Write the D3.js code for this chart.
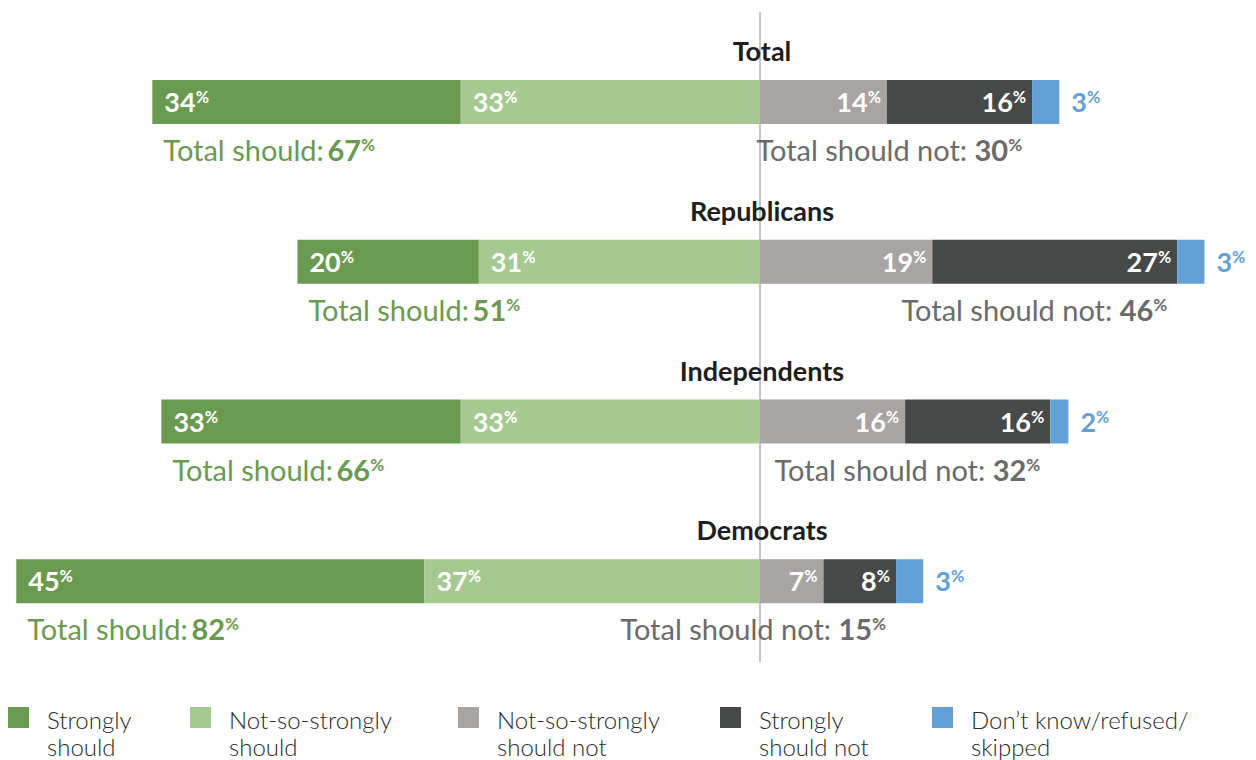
<!DOCTYPE html>
<html>
<head>
<meta charset="utf-8">
<script src="https://cdn.jsdelivr.net/npm/d3@7"></script>
<style>
  body { margin: 0; background: #fff; }
  svg { font-family: Lato, "Open Sans", sans-serif; }
</style>
</head>
<body>
<div id="chart"></div>
<script>
// data
const groups = ["Total", "Republicans", "Independents", "Democrats"];
const stronglyShould = [34, 20, 33, 45];
const notSoShould = [33, 31, 33, 37];
const notSoShouldNot = [14, 19, 16, 7];
const stronglyShouldNot = [16, 27, 16, 8];
const dontKnow = [3, 3, 2, 3];
const totalShould = [67, 51, 66, 82];
const totalShouldNot = [30, 46, 32, 15];
const legendLabels = [
  ["Strongly", "should"],
  ["Not-so-strongly", "should"],
  ["Not-so-strongly", "should not"],
  ["Strongly", "should not"],
  ["Don\u2019t know/refused/", "skipped"]
];

const colors = ["#6a9a50", "#a6c991", "#a8a4a2", "#474948", "#62a0d5"];
const greenText = "#6a9a50";
const grayText = "#6b6b6b";

const width = 1256, height = 760;
const centerX = 760;

const svg = d3.select("#chart").append("svg")
  .attr("width", width)
  .attr("height", height);

// percent -> px offset from center
const x = d3.scaleLinear().domain([0, 100]).range([0, 907]);
const y = d3.scaleBand().domain(groups).range([80, 719]).paddingInner(0);
const barH = 44;

// center line
svg.append("line")
  .attr("x1", centerX).attr("x2", centerX)
  .attr("y1", 12).attr("y2", 662)
  .attr("stroke", "#8a8a8a").attr("stroke-width", 1);

function pctLabel(sel, num, fs, color) {
  sel.attr("fill", color);
  sel.append("tspan")
    .attr("font-weight", 700)
    .attr("font-size", fs)
    .text(num);
  sel.append("tspan")
    .attr("font-weight", 700)
    .attr("font-size", fs * 0.6)
    .attr("dy", -fs * 0.33)
    .text("%");
}

groups.forEach((g, i) => {
  const top = y(g);
  const gEl = svg.append("g").attr("class", "group");

  // title
  gEl.append("text")
    .attr("x", centerX + 2).attr("y", top - 19)
    .attr("text-anchor", "middle")
    .attr("font-size", 27).attr("font-weight", 700)
    .attr("fill", "#1e1e1e")
    .text(g);

  // left segments: strongly should (outer), not-so (inner)
  const leftSegs = [
    { v: stronglyShould[i], start: notSoShould[i] + stronglyShould[i], c: colors[0] },
    { v: notSoShould[i], start: notSoShould[i], c: colors[1] }
  ];
  leftSegs.forEach(s => {
    const x0 = centerX - x(s.start);
    gEl.append("rect")
      .attr("x", x0).attr("y", top)
      .attr("width", x(s.v)).attr("height", barH)
      .attr("fill", s.c);
    const t = gEl.append("text")
      .attr("x", x0 + 12).attr("y", top + 32);
    pctLabel(t, s.v, 27, "#fff");
  });

  // right segments
  const rightVals = [notSoShouldNot[i], stronglyShouldNot[i], dontKnow[i]];
  let acc = 0;
  rightVals.forEach((v, k) => {
    const x0 = centerX + x(acc);
    const x1 = centerX + x(acc + v);
    gEl.append("rect")
      .attr("x", x0).attr("y", top)
      .attr("width", x(v)).attr("height", barH)
      .attr("fill", colors[k + 2]);
    if (k < 2) {
      const t = gEl.append("text")
        .attr("x", x1 - 6).attr("y", top + 32)
        .attr("text-anchor", "end");
      pctLabel(t, v, 27, "#fff");
    } else {
      const t = gEl.append("text")
        .attr("x", x1 + 12).attr("y", top + 32);
      pctLabel(t, v, 27, colors[4]);
    }
    acc += v;
  });

  // total should
  const ts = gEl.append("text")
    .attr("x", centerX - x(totalShould[i]) + 11)
    .attr("y", top + 81)
    .attr("fill", greenText)
    .attr("font-size", 29);
  ts.append("tspan").text("Total should:\u2009");
  ts.append("tspan").attr("font-weight", 700).text(totalShould[i]);
  ts.append("tspan").attr("font-weight", 700).attr("font-size", 17).attr("dy", -10).text("%");

  // total should not
  const endDark = centerX + x(notSoShouldNot[i] + stronglyShouldNot[i]);
  const tn = gEl.append("text")
    .attr("x", endDark - 10)
    .attr("y", top + 81)
    .attr("text-anchor", "end")
    .attr("fill", grayText)
    .attr("font-size", 29);
  tn.append("tspan").text("Total should not: ");
  tn.append("tspan").attr("font-weight", 700).text(totalShouldNot[i]);
  tn.append("tspan").attr("font-weight", 700).attr("font-size", 17).attr("dy", -10).text("%");
});

// legend
const legendX = [8, 190, 458, 720, 932];
const legend = svg.append("g").attr("class", "legend");
legendLabels.forEach((lines, k) => {
  legend.append("rect")
    .attr("x", legendX[k]).attr("y", 707)
    .attr("width", 21).attr("height", 21)
    .attr("fill", colors[k]);
  lines.forEach((l, j) => {
    legend.append("text")
      .attr("x", legendX[k] + 39)
      .attr("y", 729 + j * 27)
      .attr("font-size", 24).attr("font-weight", 300).attr("fill", "#2a2a2a")
      .text(l);
  });
});
</script>
</body>
</html>
